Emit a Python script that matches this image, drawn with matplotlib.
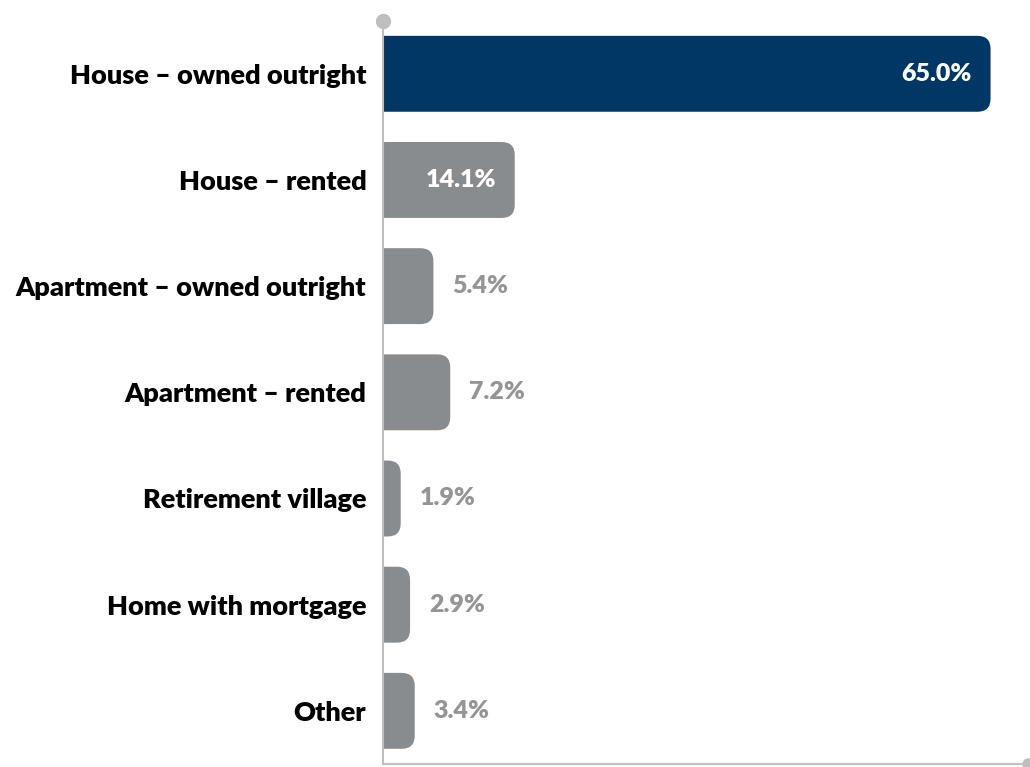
import matplotlib.pyplot as plt
from matplotlib.patches import FancyBboxPatch

categories = ['House – owned outright', 'House – rented', 'Apartment – owned outright',
              'Apartment – rented', 'Retirement village', 'Home with mortgage', 'Other']
values = [65.0, 14.1, 5.4, 7.2, 1.9, 2.9, 3.4]
labels = ['65.0%', '14.1%', '5.4%', '7.2%', '1.9%', '2.9%', '3.4%']
inside = [True, True, False, False, False, False, False]

navy = '#003764'
grey = '#898c8e'
axis_grey = '#bfbfbf'
label_grey = '#959595'

plt.rcParams['font.family'] = ['Lato', 'DejaVu Sans']

fig = plt.figure(figsize=(10.30, 7.67), dpi=100)
ax = fig.add_axes([0.3718, 0.004, 0.6262, 0.969])

xmax = 69.0
ax.set_xlim(0, xmax)
ax.set_ylim(6.5, -0.5)

bar_h = 0.715
r = 1.4           # rounding in x data units
aspect = 0.088    # y/x scale of the rounding
for i, v in enumerate(values):
    color = navy if i == 0 else grey
    p = FancyBboxPatch((-4, i - bar_h / 2), v + 4, bar_h,
                       boxstyle='round,pad=0,rounding_size=%g' % r,
                       mutation_aspect=aspect, fc=color, ec='none', clip_on=True)
    ax.add_patch(p)
    if inside[i]:
        ax.text(v - 2.0, i, labels[i], ha='right', va='center', color='white',
                fontsize=18, fontweight='heavy')
    else:
        ax.text(v + 2.0, i, labels[i], ha='left', va='center', color=label_grey,
                fontsize=18, fontweight='heavy')

ax.set_yticks(range(len(categories)))
ax.set_yticklabels(categories, fontsize=19.5, fontweight='heavy')
ax.tick_params(axis='y', length=0, pad=12)
ax.set_xticks([])

for s in ['top', 'right']:
    ax.spines[s].set_visible(False)
for s in ['left', 'bottom']:
    ax.spines[s].set_color(axis_grey)
    ax.spines[s].set_linewidth(1.5)

# end caps on the axis lines
ax.plot([0], [-0.5], 'o', color=axis_grey, ms=10, clip_on=False)
ax.plot([xmax], [6.5], 'o', color=axis_grey, ms=8, clip_on=False)

fig.savefig('out.png', dpi=100)
